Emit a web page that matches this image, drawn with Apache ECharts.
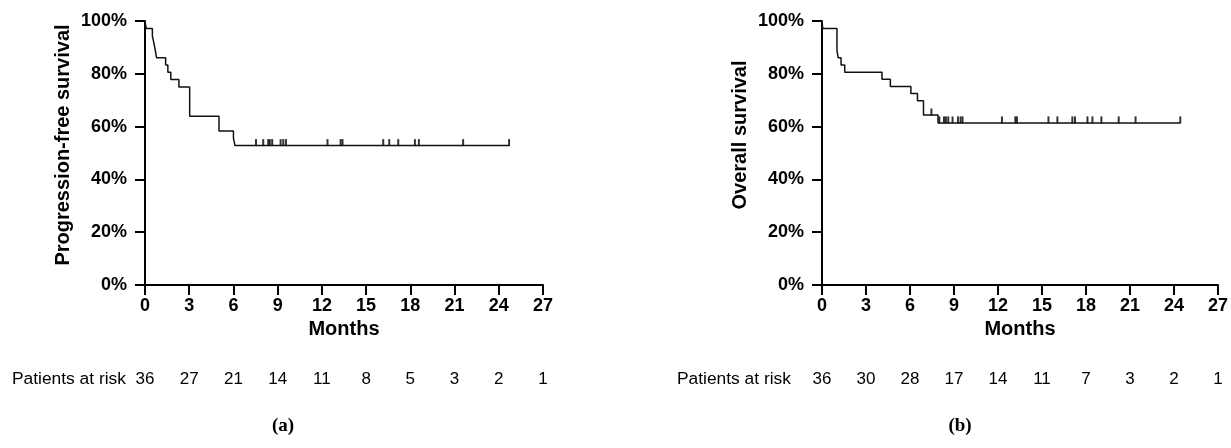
<!DOCTYPE html>
<html><head><meta charset="utf-8">
<script src="https://cdn.jsdelivr.net/npm/echarts@6/dist/echarts.min.js"></script>
<style>html,body{margin:0;padding:0;background:#fff}#c{width:1231px;height:448px}</style>
</head><body><div id="c"></div>
<script>
// ---- data ----
const monthTicks = [0, 3, 6, 9, 12, 15, 18, 21, 24, 27];
const pfsAtRisk = [36, 27, 21, 14, 11, 8, 5, 3, 2, 1];
const osAtRisk  = [36, 30, 28, 17, 14, 11, 7, 3, 2, 1];

const pfsEventTimes = [0.08, 0.5, 0.6, 0.7, 0.78, 1.4, 1.55, 1.75, 2.3, 3.03, 5.02, 6.0, 6.1];
const pfsEventSurv  = [97.2, 94.4, 91.7, 88.9, 86.1, 83.3, 80.6, 77.8, 75.0, 63.9, 58.3, 55.6, 52.8];
const pfsCensorTimes = [7.53, 8.02, 8.36, 8.47, 8.63, 9.2, 9.38, 9.56, 12.38, 13.27, 13.4, 16.16, 16.57, 17.18, 18.31, 18.58, 21.58, 24.7];
const pfsEnd = 24.7;

const osEventTimes = [0.05, 1.02, 1.1, 1.3, 1.55, 4.09, 4.66, 6.06, 6.51, 6.92, 7.91];
const osEventSurv  = [97.2, 88.9, 86.1, 83.3, 80.6, 77.9, 75.2, 72.5, 69.8, 64.4, 61.4];
const osCensorTimes = [7.46, 8.0, 8.32, 8.45, 8.61, 8.9, 9.27, 9.45, 9.58, 12.27, 13.18, 13.29, 15.44, 16.05, 17.07, 17.25, 18.1, 18.44, 19.05, 20.23, 21.38, 24.43];
const osEnd = 24.43;

const yTicks = [0, 20, 40, 60, 80, 100];

// ---- helpers ----
function stepPath(times, surv, end) {
  const pts = [[0, 100]];
  let prev = 100;
  for (let i = 0; i < times.length; i++) {
    pts.push([times[i], prev]);
    pts.push([times[i], surv[i]]);
    prev = surv[i];
  }
  pts.push([end, prev]);
  return pts;
}
function censorPts(times, evT, evS) {
  return times.map(t => {
    let s = 100;
    for (let i = 0; i < evT.length; i++) if (evT[i] <= t) s = evS[i];
    return [t, s];
  });
}

const FONT = 'Liberation Sans';
const gridTop = 21, gridH = 264, gridW = 398;
const grids = [
  {left: 145, top: gridTop, width: gridW, height: gridH},
  {left: 822, top: gridTop, width: gridW, height: gridH}
];

function mainX(g) {
  return {
    type: 'value', gridIndex: g, min: monthTicks[0], max: monthTicks[monthTicks.length - 1], interval: 3,
    axisLine: {show: true, onZero: false, lineStyle: {color: '#000', width: 2}},
    axisTick: {show: true, length: 10, lineStyle: {color: '#000', width: 2}},
    axisLabel: {color: '#000', fontFamily: FONT, fontWeight: 'bold', fontSize: 18, margin: 12},
    splitLine: {show: false},
    name: 'Months', nameLocation: 'middle', nameGap: 30,
    nameTextStyle: {color: '#000', fontFamily: FONT, fontWeight: 'bold', fontSize: 20}
  };
}
function riskX(g, risk, gap) {
  return {
    type: 'value', gridIndex: g, min: monthTicks[0], max: monthTicks[monthTicks.length - 1], interval: 3,
    position: 'bottom', offset: 94,
    axisLine: {show: false, onZero: false}, axisTick: {show: false}, splitLine: {show: false},
    axisLabel: {color: '#000', fontFamily: FONT, fontSize: 17, margin: 0, verticalAlign: 'middle',
      formatter: v => String(risk[monthTicks.indexOf(Math.round(v))])},
    name: 'Patients at risk', nameLocation: 'start', nameGap: gap,
    nameTextStyle: {color: '#000', fontFamily: FONT, fontSize: 17.4, verticalAlign: 'middle'}
  };
}
function mainY(g, name, pad) {
  return {
    type: 'value', gridIndex: g, min: yTicks[0], max: yTicks[yTicks.length - 1], interval: 20,
    axisLine: {show: true, onZero: false, lineStyle: {color: '#000', width: 2}},
    axisTick: {show: true, length: 10, lineStyle: {color: '#000', width: 2}},
    axisLabel: {color: '#000', fontFamily: FONT, fontWeight: 'bold', fontSize: 18, margin: 18, formatter: '{value}%'},
    splitLine: {show: false},
    name: name, nameLocation: 'middle', nameGap: 72,
    nameTextStyle: {color: '#000', fontFamily: FONT, fontWeight: 'bold', fontSize: 20, padding: [0, 0, 0, pad]}
  };
}
function curve(xi, yi, data) {
  return {type: 'line', xAxisIndex: xi, yAxisIndex: yi, data: data, showSymbol: false, silent: true,
    lineStyle: {color: '#111', width: 1.5}, animation: false};
}
function censors(xi, yi, data) {
  return {type: 'scatter', xAxisIndex: xi, yAxisIndex: yi, data: data, symbol: 'rect',
    symbolSize: [2, 7], symbolOffset: [0, -3], itemStyle: {color: '#000'}, silent: true, animation: false};
}

const capStyle = {rich: {
  p: {fontFamily: 'Liberation Serif', fontSize: 19, color: '#000'},
  b: {fontFamily: 'Liberation Serif', fontSize: 19, fontWeight: 'bold', color: '#000'}
}};

const option = {
  backgroundColor: '#fff',
  animation: false,
  title: [
    {text: '{p|(}{b|a}{p|)}', left: 278, top: 412, textAlign: 'center', textStyle: capStyle},
    {text: '{p|(}{b|b}{p|)}', left: 955, top: 412, textAlign: 'center', textStyle: capStyle}
  ],
  grid: grids,
  xAxis: [mainX(0), riskX(0, pfsAtRisk, 19), mainX(1), riskX(1, osAtRisk, 31)],
  yAxis: [mainY(0, 'Progression-free survival', 16), mainY(1, 'Overall survival', 36)],
  series: [
    curve(0, 0, stepPath(pfsEventTimes, pfsEventSurv, pfsEnd)),
    censors(0, 0, censorPts(pfsCensorTimes, pfsEventTimes, pfsEventSurv)),
    curve(2, 1, stepPath(osEventTimes, osEventSurv, osEnd)),
    censors(2, 1, censorPts(osCensorTimes, osEventTimes, osEventSurv))
  ]
};
const chart = echarts.init(document.getElementById('c'), null, {renderer: 'canvas'});
chart.setOption(option);
</script>
</body></html>
